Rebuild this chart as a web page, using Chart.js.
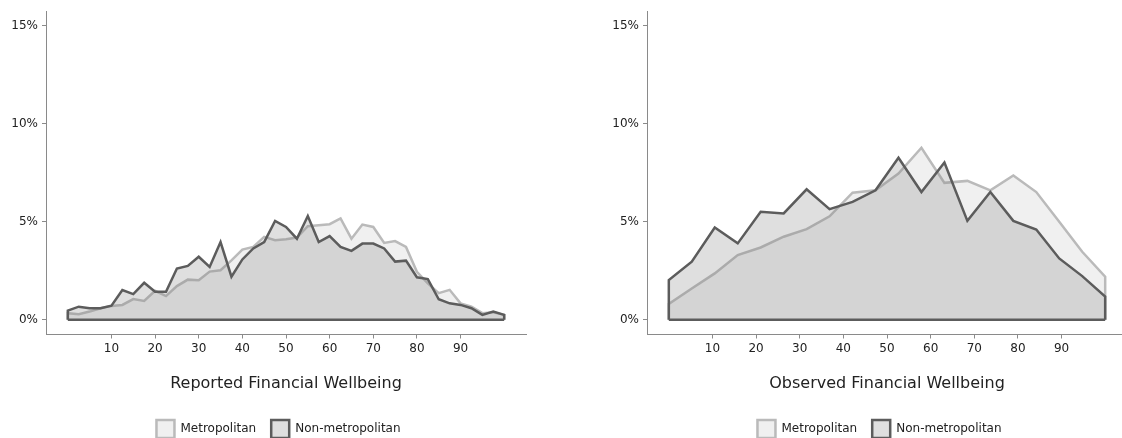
<!DOCTYPE html>
<html>
<head>
<meta charset="utf-8">
<script src="https://cdn.jsdelivr.net/npm/chart.js@4.4.0/dist/chart.umd.min.js"></script>
<style>
  html, body { margin: 0; padding: 0; background: #fff; overflow: hidden; width: 1122px; height: 438px; }
  .panel { position: absolute; top: 0; width: 600px; height: 448px; }
  #p1 { left: 0; }
  #p2 { left: 601px; }
</style>
</head>
<body>
<div class="panel" id="p1"><canvas id="c1" width="600" height="448"></canvas></div>
<div class="panel" id="p2"><canvas id="c2" width="600" height="448"></canvas></div>
<script>
// ---- Data ----
const seriesNames = ["Metropolitan", "Non-metropolitan"];
const xTickValues = [10, 20, 30, 40, 50, 60, 70, 80, 90];
const yTickValues = [0, 5, 10, 15];

// Reported Financial Wellbeing (41 bins)
const reportedX = [0, 2.5, 5, 7.5, 10, 12.5, 15, 17.5, 20, 22.5, 25, 27.5, 30, 32.5, 35, 37.5, 40, 42.5, 45, 47.5,
  50, 52.5, 55, 57.5, 60, 62.5, 65, 67.5, 70, 72.5, 75, 77.5, 80, 82.5, 85, 87.5, 90, 92.5, 95, 97.5, 100];
const reportedMetro = [0.34, 0.29, 0.42, 0.59, 0.71, 0.76, 1.06, 0.96, 1.48, 1.21, 1.72, 2.05, 2.02, 2.46, 2.53, 3.03,
  3.58, 3.72, 4.23, 4.06, 4.11, 4.20, 4.78, 4.83, 4.88, 5.17, 4.14, 4.86, 4.74, 3.92, 4.02, 3.72, 2.45, 1.86, 1.36,
  1.53, 0.84, 0.67, 0.34, 0.39, 0.25];
const reportedNonMetro = [0.47, 0.67, 0.59, 0.59, 0.72, 1.52, 1.31, 1.89, 1.43, 1.43, 2.62, 2.75, 3.22, 2.70, 3.97,
  2.20, 3.08, 3.64, 3.97, 5.05, 4.74, 4.14, 5.30, 3.97, 4.27, 3.72, 3.52, 3.89, 3.89, 3.64, 2.97, 3.02, 2.17, 2.08,
  1.05, 0.84, 0.76, 0.59, 0.25, 0.42, 0.25];

// Observed Financial Wellbeing (20 bins)
const observedX = [0, 5.26, 10.53, 15.79, 21.05, 26.32, 31.58, 36.84, 42.11, 47.37, 52.63, 57.89, 63.16, 68.42,
  73.68, 78.95, 84.21, 89.47, 94.74, 100];
const observedMetro = [0.81, 1.60, 2.37, 3.30, 3.69, 4.24, 4.63, 5.28, 6.49, 6.61, 7.46, 8.78, 6.99, 7.09, 6.61,
  7.37, 6.52, 5.00, 3.47, 2.20];
const observedNonMetro = [2.03, 2.97, 4.71, 3.90, 5.51, 5.43, 6.66, 5.65, 6.02, 6.61, 8.27, 6.52, 8.03, 5.05, 6.52,
  5.05, 4.61, 3.13, 2.23, 1.19];

const titles = ["Reported Financial Wellbeing", "Observed Financial Wellbeing"];

// ---- Styles ----
const FONT = "'DejaVu Sans', 'Liberation Sans', sans-serif";
const metroLine = "#bababa";
const metroFill = "rgba(128,128,128,0.12)";
const nonLine = "#5c5c5c";
const nonFill = "rgba(128,128,128,0.25)";
const axisColor = "#8a8a8a";

function polygon(xs, vals) {
  const pts = [{x: xs[0], y: 0}];
  xs.forEach((x, i) => pts.push({x: x, y: vals[i]}));
  pts.push({x: xs[xs.length - 1], y: 0});
  return pts;
}

function makeChart(canvasId, xs, metro, nonMetro, title) {
  const ctx = document.getElementById(canvasId);
  return new Chart(ctx, {
    type: 'line',
    data: {
      datasets: [
        {
          label: seriesNames[0],
          data: polygon(xs, metro),
          borderColor: metroLine,
          backgroundColor: metroFill,
          borderWidth: 2.5,
          fill: 'origin',
          pointRadius: 0,
          tension: 0,
          borderJoinStyle: 'miter',
          order: 2
        },
        {
          label: seriesNames[1],
          data: polygon(xs, nonMetro),
          borderColor: nonLine,
          backgroundColor: nonFill,
          borderWidth: 2.5,
          fill: 'origin',
          pointRadius: 0,
          tension: 0,
          borderJoinStyle: 'miter',
          order: 1
        },
        {
          label: '_baseline',
          data: [{x: xs[0], y: 0}, {x: xs[xs.length - 1], y: 0}],
          borderColor: nonLine,
          borderWidth: 2.5,
          fill: false,
          pointRadius: 0,
          order: 0
        }
      ]
    },
    options: {
      responsive: false,
      animation: false,
      devicePixelRatio: 1,
      layout: { padding: { left: 0, right: 43, top: 10, bottom: 0 } },
      plugins: {
        tooltip: { enabled: false },
        legend: {
          display: true,
          position: 'bottom',
          labels: {
            boxWidth: 18,
            boxHeight: 18,
            padding: 15,
            color: '#222',
            font: { family: FONT, size: 12 },
            filter: (item) => item.text !== '_baseline',
            sort: (a, b) => a.datasetIndex - b.datasetIndex
          }
        }
      },
      scales: {
        x: {
          type: 'linear',
          min: -5,
          max: 105,
          afterBuildTicks: (s) => { s.ticks = xTickValues.map(v => ({value: v})); },
          afterFit: (s) => { s.height = 70.5; },
          ticks: {
            color: '#222',
            font: { family: FONT, size: 12 },
            padding: 3,
            maxRotation: 0,
            autoSkip: false,
            callback: (v) => String(v)
          },
          grid: { display: true, drawOnChartArea: false, drawTicks: true, tickLength: 4, color: axisColor, lineWidth: 1 },
          border: { display: true, color: axisColor, width: 1 },
          title: {
            display: true,
            text: title,
            color: '#222',
            font: { family: FONT, size: 16 },
            padding: { top: 0, bottom: 12 }
          }
        },
        y: {
          type: 'linear',
          position: 'left',
          min: -0.75,
          max: 15.75,
          afterBuildTicks: (s) => { s.ticks = yTickValues.map(v => ({value: v})); },
          afterFit: (s) => { s.width = 46; },
          ticks: {
            color: '#222',
            font: { family: FONT, size: 12 },
            padding: 4,
            autoSkip: false,
            callback: (v) => v + '%'
          },
          grid: { display: true, drawOnChartArea: false, drawTicks: true, tickLength: 4, color: axisColor, lineWidth: 1 },
          border: { display: true, color: axisColor, width: 1 }
        },
        ySpacer: {
          type: 'linear',
          axis: 'y',
          position: 'right',
          display: true,
          min: 0,
          max: 1,
          afterFit: (s) => { s.width = 31; },
          ticks: { display: false },
          grid: { display: false, drawTicks: false },
          border: { display: false }
        }
      }
    }
  });
}

makeChart('c1', reportedX, reportedMetro, reportedNonMetro, titles[0]);
makeChart('c2', observedX, observedMetro, observedNonMetro, titles[1]);
</script>
</body>
</html>
